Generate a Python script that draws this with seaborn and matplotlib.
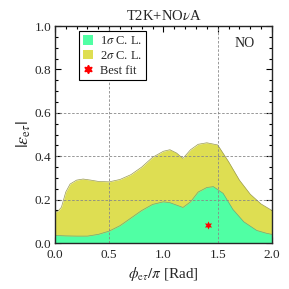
import numpy as np
import pandas as pd
import matplotlib
matplotlib.use("Agg")
import matplotlib.pyplot as plt
import seaborn as sns
from matplotlib.patches import Patch
from matplotlib.lines import Line2D
from matplotlib.ticker import MultipleLocator

# 2 sigma upper boundary
phi_2s = [0.0, 0.03, 0.06, 0.1, 0.14, 0.2, 0.26, 0.33, 0.4, 0.5, 0.6, 0.7, 0.8, 0.9,
          1.0, 1.06, 1.12, 1.18, 1.25, 1.32, 1.4, 1.5, 1.6, 1.7, 1.8, 1.9, 2.0]
eps_2s = [0.142, 0.148, 0.165, 0.235, 0.272, 0.29, 0.295, 0.29, 0.284, 0.282, 0.293, 0.315,
          0.35, 0.395, 0.423, 0.43, 0.415, 0.39, 0.43, 0.455, 0.462, 0.452, 0.375, 0.29,
          0.225, 0.18, 0.15]

# 1 sigma upper boundary
phi_1s = [0.0, 0.1, 0.2, 0.3, 0.4, 0.5, 0.6, 0.7, 0.8, 0.9, 1.0, 1.06, 1.12, 1.18,
          1.25, 1.32, 1.4, 1.46, 1.55, 1.64, 1.74, 1.86, 1.95, 2.0]
eps_1s = [0.035, 0.033, 0.032, 0.032, 0.04, 0.055, 0.08, 0.115, 0.15, 0.178, 0.19,
          0.186, 0.175, 0.164, 0.19, 0.235, 0.256, 0.26, 0.229, 0.155, 0.098, 0.058,
          0.045, 0.04]

best_phi = [1.41]
best_eps = [0.083]

sns.set_style("ticks")
plt.rcParams['font.family'] = ['Liberation Serif', 'DejaVu Serif']
plt.rcParams['mathtext.fontset'] = 'stix'

c1 = '#50ffa4'
c2 = '#dede52'

fig = plt.figure(figsize=(2.89, 2.89), dpi=100)
ax = fig.add_axes([0.19, 0.159, 0.751, 0.751])

ax.fill_between(phi_2s, 0, eps_2s, color=c2, lw=0)
ax.fill_between(phi_1s, 0, eps_1s, color=c1, lw=0)
sns.lineplot(x=phi_2s, y=eps_2s, ax=ax, color='#9a9a50', lw=0.5, sort=False)
sns.lineplot(x=phi_1s, y=eps_1s, ax=ax, color='#6aa880', lw=0.5, sort=False)
sns.scatterplot(x=best_phi, y=best_eps, ax=ax, color='red', marker=(6, 1, 0),
                s=35, linewidth=0, zorder=5)

for v in [0.5, 1.5]:
    ax.axvline(v, color='#888888', ls=(0, (3, 2)), lw=0.6, zorder=4)
for v in [0.2, 0.4, 0.6]:
    ax.axhline(v, color='#888888', ls=(0, (3, 2)), lw=0.6, zorder=4)

ax.set_xlim(0, 2)
ax.set_ylim(0, 1)
ax.set_xticks([0, 0.5, 1.0, 1.5, 2.0], ['0.0', '0.5', '1.0', '1.5', '2.0'])
ax.set_yticks([0, 0.2, 0.4, 0.6, 0.8, 1.0], ['0.0', '0.2', '0.4', '0.6', '0.8', '1.0'])
ax.xaxis.set_minor_locator(MultipleLocator(0.1))
ax.yaxis.set_minor_locator(MultipleLocator(0.05))
ax.tick_params(which='both', direction='in', top=True, right=True, labelsize=9.5,
               width=0.8, color='black')
ax.tick_params(axis='x', pad=4)
ax.tick_params(axis='y', pad=2.5)
ax.tick_params(which='major', length=4.5)
ax.tick_params(which='minor', length=2.5)
for s in ax.spines.values():
    s.set_linewidth(1.0)
    s.set_zorder(6)

ax.set_xlabel(r'$\phi_{\mathrm{e}\tau}/\pi$ [Rad]', fontsize=11, labelpad=3)
ax.set_ylabel(r'$|\varepsilon_{\mathrm{e}\tau}|$', fontsize=13, labelpad=1)
ax.set_title(r'T2K+NO$\nu$A', fontsize=10.5, pad=4)
ax.text(0.876, 0.92, 'NO', transform=ax.transAxes, fontsize=10, ha='center', va='center')

handles = [Patch(facecolor=c1, edgecolor='none', label=r'1$\sigma$ C. L.'),
           Patch(facecolor=c2, edgecolor='none', label=r'2$\sigma$ C. L.'),
           Line2D([], [], color='red', marker=(6, 1, 0), ls='none', markersize=6,
                  label='Best fit')]
leg = ax.legend(handles=handles, loc='upper left', bbox_to_anchor=(0.11, 0.975),
                fontsize=9, frameon=True, fancybox=False, handlelength=0.8,
                handleheight=0.8, handletextpad=0.6, labelspacing=0.2,
                borderpad=0.3, borderaxespad=0)
leg.get_frame().set_edgecolor('black')
leg.get_frame().set_linewidth(0.8)
leg.get_frame().set_alpha(1)

fig.savefig('out.png', dpi=100)
